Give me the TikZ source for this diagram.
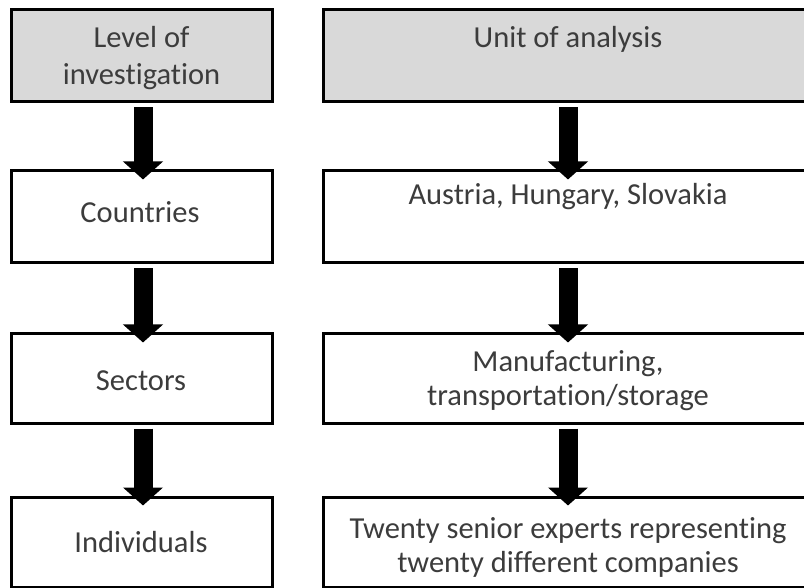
\documentclass[tikz,border=0pt]{standalone}
\usepackage{fontspec}
\setmainfont[Ligatures=NoCommon]{Carlito}
\usetikzlibrary{arrows.meta}
\definecolor{boxgray}{HTML}{D9D9D9}
\definecolor{txtgray}{HTML}{3C3C3C}
\tikzset{
  box/.style={draw=black, line width=3pt, rectangle, inner sep=0pt, fill=white},
  headbox/.style={box, fill=boxgray},
  lbl/.style={text=txtgray, font=\fontsize{30.5pt}{37pt}\selectfont, align=center, inner sep=0pt, anchor=base},
  rlbl/.style={lbl, font=\fontsize{30.5pt}{34pt}\selectfont},
  bigarrow/.style={line width=19pt, -{Triangle[width=39pt,length=18pt]}, shorten <=4pt, shorten >=-10pt}
}
\begin{document}
\begin{tikzpicture}[x=1pt,y=-1pt]
\useasboundingbox (0,0) rectangle (804,588);
\clip (0,0) rectangle (804,588);
\fill[white] (0,0) rectangle (804,588);
% left column
\node[headbox, minimum width=261pt, minimum height=92pt] (l1) at (141.5,56) {};
\node[box, minimum width=261pt, minimum height=92pt] (l2) at (141.5,217) {};
\node[box, minimum width=261pt, minimum height=89pt] (l3) at (141.5,378.5) {};
\node[box, minimum width=261pt, minimum height=90pt] (l4) at (141.5,542) {};
% right column
\node[headbox, minimum width=490pt, minimum height=92pt] (r1) at (568,56) {};
\node[box, minimum width=490pt, minimum height=92pt] (r2) at (568,217) {};
\node[box, minimum width=490pt, minimum height=89pt] (r3) at (568,378.5) {};
\node[box, minimum width=490pt, minimum height=90pt] (r4) at (568,542) {};
% texts (base anchor = baseline of last line)
\node[lbl] (t1) at (141.5,85) {Level of\\investigation};
\node[lbl] (t2) at (140,223) {Countries};
\node[lbl] (t3) at (141,390) {Sectors};
\node[lbl] (t4) at (141,552) {Individuals};
\node[lbl] (u1) at (568,48) {Unit of analysis};
\node[lbl] (u2) at (568,205) {Austria, Hungary, Slovakia};
\node[rlbl] (u3) at (568,405) {Manufacturing,\\transportation/storage};
\node[rlbl] (u4) at (568,572) {Twenty senior experts representing\\twenty different companies};
% arrows
\draw[bigarrow] ([xshift=1.5pt]l1.south) -- ([xshift=1.5pt]l2.north);
\draw[bigarrow] ([xshift=1.5pt]l2.south) -- ([xshift=1.5pt]l3.north);
\draw[bigarrow] ([xshift=1.5pt]l3.south) -- ([xshift=1.5pt]l4.north);
\draw[bigarrow] (r1.south) -- (r2.north);
\draw[bigarrow] (r2.south) -- (r3.north);
\draw[bigarrow] (r3.south) -- (r4.north);
\end{tikzpicture}
\end{document}
